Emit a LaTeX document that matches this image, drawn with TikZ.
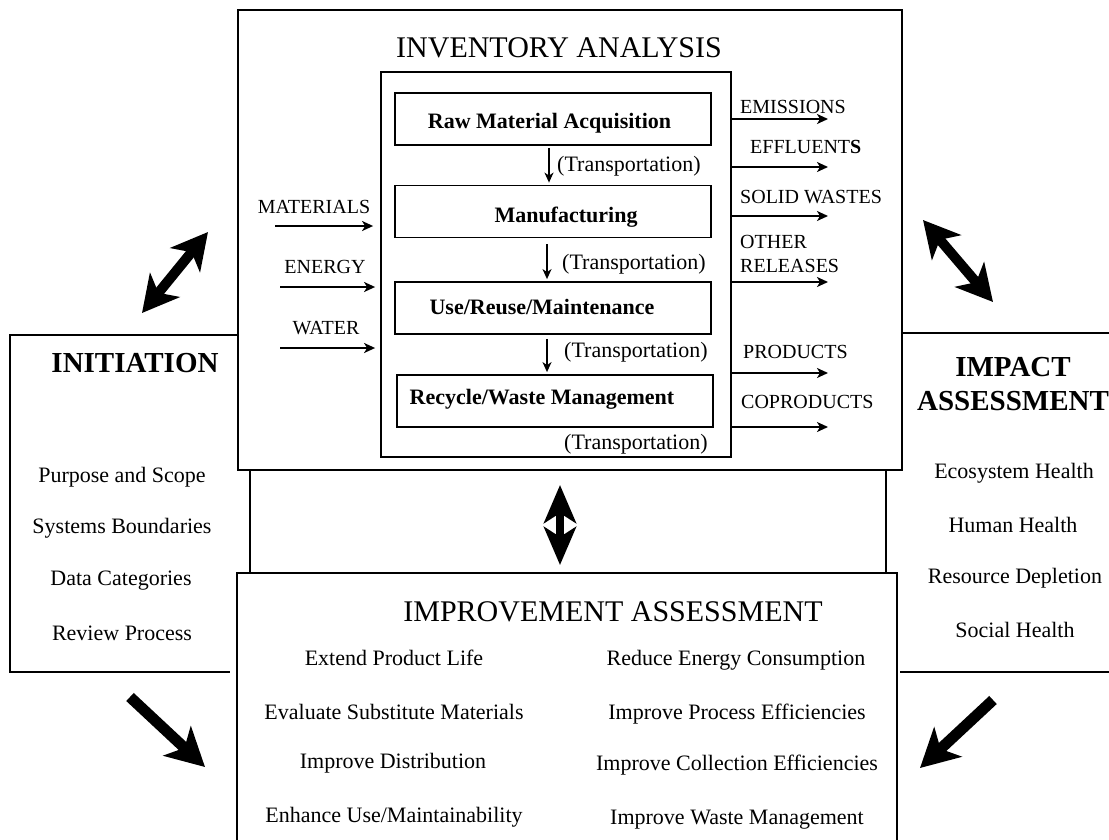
\documentclass[tikz,border=0pt]{standalone}
\usepackage{fontspec}
\setmainfont{Liberation Serif}
\usetikzlibrary{arrows.meta}
\begin{document}
\begin{tikzpicture}[x=1pt,y=-1pt,
  frame/.style={line width=1.8pt},
  procbox/.style={draw,line width=1.8pt,minimum width=316pt,minimum height=52pt,inner sep=0pt},
  btxt/.style={font=\fontsize{22}{24}\selectfont\bfseries,inner sep=0pt},
  item/.style={font=\fontsize{22}{24}\selectfont,inner sep=0pt},
  flab/.style={font=\fontsize{20}{24}\selectfont,inner sep=0pt,anchor=west},
  ttl/.style={font=\fontsize{30}{34}\selectfont,inner sep=0pt},
  bttl/.style={font=\fontsize{29}{35}\selectfont\bfseries,inner sep=0pt,align=center},
  flow/.style={line width=1.8pt,-{Stealth[length=11pt,width=10pt,inset=3pt]}},
  tarrow/.style={line width=1.5pt,-{Stealth[length=10pt,width=9pt,inset=3pt]}},
  bigdouble/.style={line width=10pt,{Stealth[length=36pt,width=38pt,inset=10pt]}-{Stealth[length=36pt,width=38pt,inset=10pt]}},
  bigsingle/.style={line width=11pt,-{Stealth[length=38pt,width=40pt,inset=10pt]}}
]
\useasboundingbox (0,0) rectangle (1109,839);
\fill[white] (0,0) rectangle (1109,839);

% Initiation frame (partly hidden)
\draw[frame] (247,335) -- (10,335) -- (10,672) -- (230,672);
% Impact frame (partly hidden)
\draw[frame] (903,333) -- (1115,333);
\draw[frame] (900,672) -- (1115,672);
% middle connecting frame
\draw[frame] (250,470) -- (250,573);
\draw[frame] (886,470) -- (886,573);

% Inventory analysis box
\node[draw,frame,fill=white,minimum width=664pt,minimum height=460pt,inner sep=0pt] (inv) at (570,240) {};
\node[ttl] (invt) at (559,48) {INVENTORY ANALYSIS};
\node[draw,frame,minimum width=350pt,minimum height=385pt,inner sep=0pt] (inner) at (556,264.5) {};

\node[procbox] (raw) at (553,119) {};
\node[procbox] (man) at (553,211.5) {};
\node[procbox] (use) at (553,308) {};
\node[procbox] (rec) at (555,401) {};
\node[btxt] (rawt) at (549.5,123) {Raw Material Acquisition};
\node[btxt] (mant) at (566,217) {Manufacturing};
\node[btxt] (uset) at (542,307) {Use/Reuse/Maintenance};
\node[btxt] (rect) at (542,399) {Recycle/Waste Management};

\draw[tarrow,shorten >=2pt,shorten <=2pt] ([xshift=-4pt]raw.south) -- ([xshift=-4pt]man.north);
\draw[tarrow,shorten >=2pt,shorten <=6pt] ([xshift=-6pt]man.south) -- ([xshift=-6pt]use.north);
\draw[tarrow,shorten >=2pt,shorten <=4pt] ([xshift=-6pt]use.south) -- ([xshift=-8pt]rec.north);
\node[item,anchor=west] (tr1) at (557,166) {(Transportation)};
\node[item,anchor=west] (tr2) at (562,264) {(Transportation)};
\node[item,anchor=west] (tr3) at (564,352) {(Transportation)};
\node[item,anchor=west] (tr4) at (564,444) {(Transportation)};

% inputs
\node[flab,anchor=center] (mat) at (314,207) {MATERIALS};
\node[flab,anchor=center] (ene) at (325,267) {ENERGY};
\node[flab,anchor=center] (wat) at (326,328) {WATER};
\coordinate (matS) at (275,226);
\coordinate (eneS) at (280,287);
\coordinate (watS) at (280,348);
\draw[flow,shorten >=7pt] (matS) -- (matS -| inner.west);
\draw[flow,shorten >=5pt] (eneS) -- (eneS -| inner.west);
\draw[flow,shorten >=5pt] (watS) -- (watS -| inner.west);

% outputs
\coordinate (emE) at (828,119);
\coordinate (efE) at (828,167);
\coordinate (swE) at (828,216);
\coordinate (orE) at (828,282);
\coordinate (prE) at (828,373);
\coordinate (coE) at (828,427);
\foreach \c in {emE,efE,swE,orE,prE,coE}{\draw[flow] (\c -| inner.east) -- (\c);}
\node[flab] (em) at (740,107) {EMISSIONS};
\node[flab] (ef) at (750,147) {EFFLUENT\textbf{S}};
\node[flab] (sw) at (740,197) {SOLID WASTES};
\node[flab] (ot) at (740,242) {OTHER};
\node[flab] (rl) at (740,266) {RELEASES};
\node[flab] (pr) at (743,352) {PRODUCTS};
\node[flab] (co) at (741,402) {COPRODUCTS};

% Initiation texts
\node[bttl] (init) at (135,363) {INITIATION};
\node[item] (i1) at (122,477) {Purpose and Scope};
\node[item] (i2) at (122,528) {Systems Boundaries};
\node[item] (i3) at (121,581) {Data Categories};
\node[item] (i4) at (122,633) {Review Process};

% Impact texts
\node[bttl] (impt) at (1013,384) {IMPACT\\[-1pt]ASSESSMENT};
\node[item] (m1) at (1014,473) {Ecosystem Health};
\node[item] (m2) at (1013,525) {Human Health};
\node[item] (m3) at (1015,578) {Resource Depletion};
\node[item] (m4) at (1015,630) {Social Health};

% Improvement assessment box
\node[draw,frame,fill=white,minimum width=660pt,minimum height=300pt,inner sep=0pt] (imp) at (567,723) {};
\node[ttl] (impr) at (613,612) {IMPROVEMENT ASSESSMENT};
\node[item] (a1) at (394,658) {Extend Product Life};
\node[item] (a2) at (394,712) {Evaluate Substitute Materials};
\node[item] (a3) at (393,763) {Improve Distribution};
\node[item] (a4) at (394,817) {Enhance Use/Maintainability};
\node[item] (b1) at (736,660) {Reduce Energy Consumption};
\node[item] (b2) at (737,714) {Improve Process Efficiencies};
\node[item] (b3) at (737,765) {Improve Collection Efficiencies};
\node[item] (b4) at (737,820) {Improve Waste Management};

% bold arrows
\coordinate (tlA) at (142,313); \coordinate (tlB) at (208,232);
\coordinate (trA) at (923,220); \coordinate (trB) at (993,302);
\coordinate (mA) at (560,485);  \coordinate (mB) at (560,565);
\coordinate (blA) at (130,697); \coordinate (blB) at (205,767);
\coordinate (brA) at (993,700); \coordinate (brB) at (920,768);
\draw[bigdouble] (tlA) -- (tlB);
\draw[bigdouble] (trA) -- (trB);
\draw[line width=8pt,{Stealth[length=38pt,width=32pt,inset=10pt]}-{Stealth[length=38pt,width=32pt,inset=10pt]}] (mA) -- (mB);
\draw[bigsingle] (blA) -- (blB);
\draw[bigsingle] (brA) -- (brB);
\end{tikzpicture}
\end{document}
